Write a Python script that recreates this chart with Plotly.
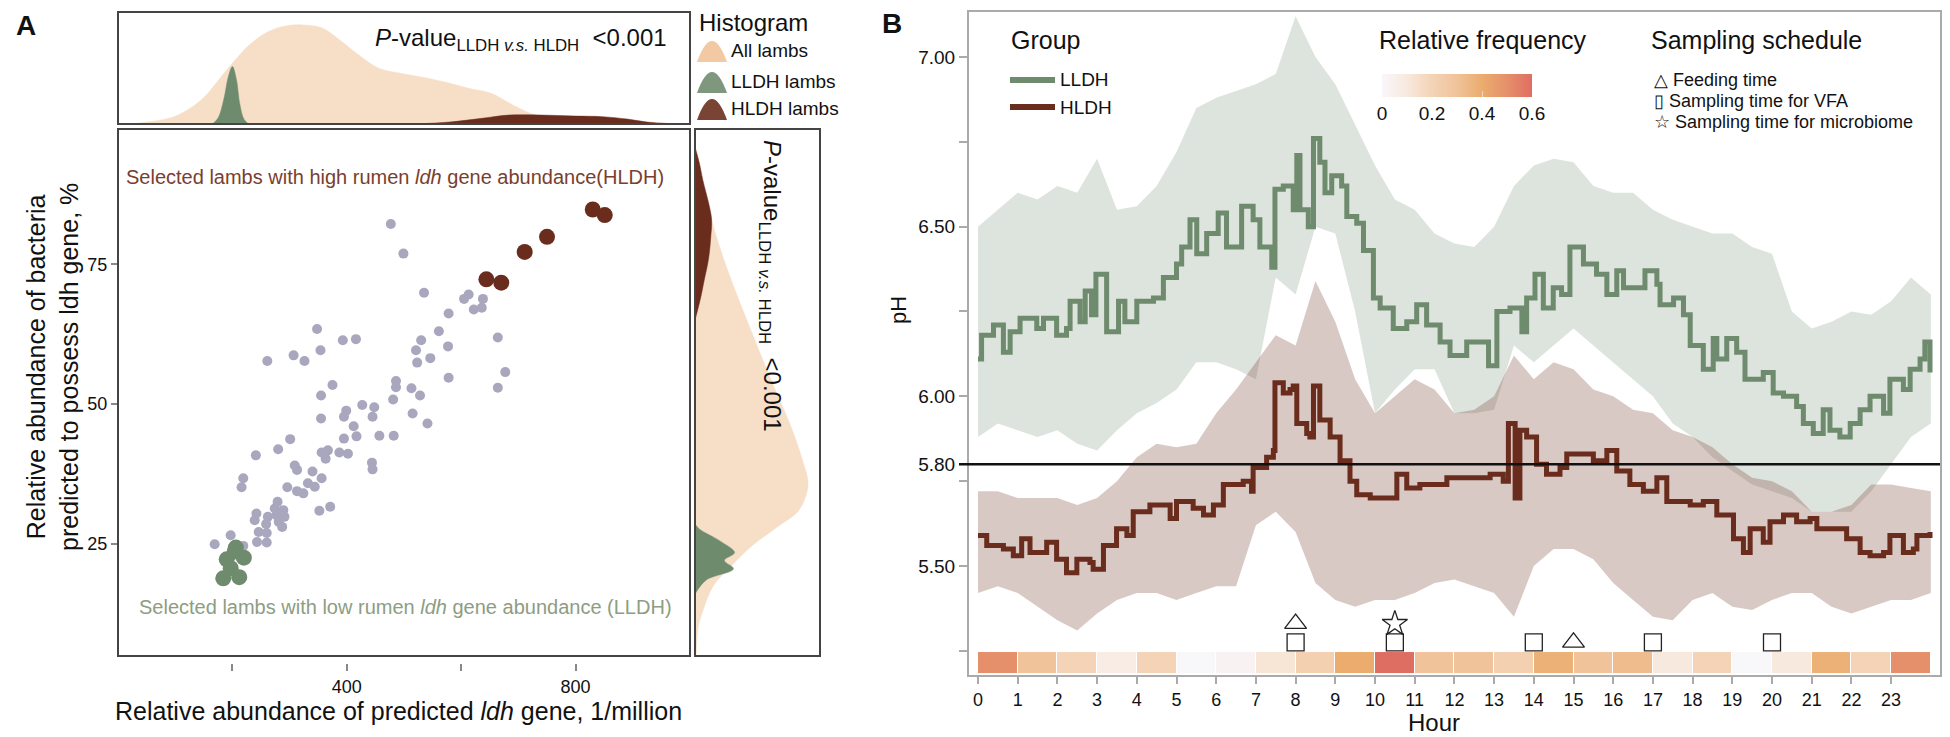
import plotly.graph_objects as go

W, H = 1950, 737
FONT = "Liberation Sans, Arial, sans-serif"

# ---------------- Panel A : scatter data ----------------
gray_x = [477, 499, 535, 605, 613, 638, 578, 622, 636, 561, 348, 393, 416, 530, 664, 354, 577, 521,
          261, 307, 326, 523, 546, 677, 578, 664, 375, 355, 486, 486, 513, 528, 481, 427, 448, 399,
          515, 355, 395, 445, 541, 412, 417, 395, 301, 457, 482, 280, 241, 356, 367, 387, 402, 363,
          309, 313, 444, 445, 219, 216, 340, 356, 332, 344, 296, 313, 324, 279, 371, 352, 274, 289,
          242, 262, 277, 291, 239, 259, 281, 287, 246, 260, 197, 243, 260, 169, 219]
gray_y = [82.2, 76.9, 69.9, 68.8, 69.6, 68.8, 66.2, 66.9, 67.2, 63.0, 63.4, 61.4, 61.6, 61.4, 61.9, 59.6,
          60.3, 59.6, 57.7, 58.7, 57.7, 57.4, 58.2, 55.7, 54.7, 52.9, 53.4, 51.5, 54.1, 53.0, 52.8, 51.5,
          50.8, 49.8, 49.4, 48.8, 48.3, 47.4, 47.7, 47.7, 46.5, 46.0, 44.2, 43.8, 43.7, 44.3, 44.3, 41.9,
          40.8, 41.3, 41.7, 41.3, 41.1, 40.2, 39.0, 38.2, 39.5, 38.3, 36.7, 35.1, 37.9, 36.7, 35.8, 35.2,
          35.1, 34.4, 34.0, 32.5, 31.6, 30.9, 31.3, 31.0, 30.4, 29.8, 30.1, 29.8, 29.2, 28.5, 28.9, 28.0,
          27.1, 26.9, 26.5, 25.3, 25.2, 24.9, 24.6]
lldh_x = [204, 190, 220, 197, 184, 212, 206]
lldh_y = [23.6, 22.2, 22.5, 20.6, 18.8, 19.0, 24.3]
hldh_x = [830, 851, 750, 711, 644, 670]
hldh_y = [84.8, 83.8, 79.9, 77.2, 72.3, 71.7]

# ---------------- Panel A : marginal densities (relative) ----------------
top_all_x = [0, 30, 50, 80, 105, 145, 185, 207, 230, 262, 293, 324, 356, 387, 418, 457, 496, 543, 574,
             613, 652, 691, 730, 769, 808, 886, 964, 1000]
top_all_d = [0.0, 0.005, 0.02, 0.045, 0.09, 0.24, 0.51, 0.66, 0.80, 0.93, 0.99, 1.0, 0.97, 0.85, 0.71,
             0.56, 0.51, 0.46, 0.42, 0.36, 0.31, 0.19, 0.09, 0.06, 0.04, 0.02, 0.007, 0.0]
top_lldh_x = [165, 175, 185, 193, 200, 207, 213, 220, 228]
top_lldh_d = [0.0, 0.06, 0.25, 0.48, 0.58, 0.45, 0.20, 0.05, 0.0]
top_hldh_x = [520, 580, 640, 683, 740, 800, 847, 890, 925, 960, 1000]
top_hldh_d = [0.0, 0.02, 0.06, 0.09, 0.09, 0.08, 0.074, 0.05, 0.02, 0.005, 0.0]

right_all_v = [97, 94, 90, 82.6, 75, 68, 60.9, 53, 46.4, 40, 35.5, 31, 28.3, 24.7, 21, 17.4, 13, 10.2, 5]
right_all_d = [0.0, 0.01, 0.06, 0.15, 0.27, 0.40, 0.54, 0.70, 0.84, 0.95, 1.0, 0.92, 0.75, 0.51, 0.32,
               0.16, 0.07, 0.03, 0.01]
right_hldh_v = [96, 93, 90, 86, 83, 80, 76, 72, 69, 65]
right_hldh_d = [0.0, 0.04, 0.07, 0.12, 0.147, 0.14, 0.12, 0.08, 0.05, 0.0]
right_lldh_v = [28.5, 27.6, 25.5, 23.4, 22.0, 20.5, 18.5, 16.0]
right_lldh_d = [0.0, 0.04, 0.22, 0.35, 0.26, 0.34, 0.10, 0.0]

# ---------------- Panel B : pH data ----------------
lldh_t = [0.00, 0.09, 0.39, 0.64, 0.81, 1.06, 1.48, 1.65, 1.98, 2.23, 2.32, 2.57, 2.70, 2.86, 2.97, 3.24,
          3.54, 3.70, 4.00, 4.42, 4.67, 5.00, 5.13, 5.34, 5.51, 5.76, 6.05, 6.26, 6.64, 6.93, 7.10, 7.40,
          7.48, 7.69, 7.94, 8.03, 8.11, 8.32, 8.45, 8.61, 8.74, 8.91, 9.16, 9.29, 9.54, 9.71, 9.96, 10.13,
          10.46, 10.80, 11.05, 11.30, 11.64, 11.89, 12.31, 12.65, 12.86, 13.07, 13.40, 13.70, 13.82, 14.03,
          14.24, 14.49, 14.70, 14.91, 15.25, 15.58, 15.84, 16.09, 16.26, 16.80, 17.10, 17.18, 17.52, 17.77,
          17.94, 18.27, 18.52, 18.61, 18.86, 19.11, 19.32, 19.78, 20.03, 20.29, 20.62, 20.79, 21.04, 21.29,
          21.46, 21.71, 21.97, 22.22, 22.47, 22.81, 22.97, 23.31, 23.48, 23.73, 23.85, 23.98]
lldh_ph = [6.11, 6.18, 6.21, 6.13, 6.19, 6.23, 6.20, 6.23, 6.18, 6.20, 6.28, 6.22, 6.31, 6.24, 6.36, 6.19,
           6.28, 6.22, 6.28, 6.29, 6.35, 6.39, 6.44, 6.52, 6.42, 6.48, 6.54, 6.44, 6.56, 6.52, 6.44, 6.38,
           6.61, 6.62, 6.55, 6.71, 6.55, 6.50, 6.76, 6.69, 6.60, 6.65, 6.62, 6.53, 6.51, 6.43, 6.29, 6.26,
           6.20, 6.22, 6.27, 6.21, 6.16, 6.12, 6.16, 6.16, 6.09, 6.25, 6.26, 6.19, 6.29, 6.36, 6.26, 6.32,
           6.30, 6.44, 6.39, 6.36, 6.30, 6.37, 6.32, 6.37, 6.33, 6.27, 6.29, 6.24, 6.15, 6.08, 6.17, 6.11,
           6.17, 6.13, 6.05, 6.07, 6.01, 6.00, 5.97, 5.92, 5.89, 5.96, 5.90, 5.88, 5.92, 5.96, 6.00, 5.95,
           6.05, 6.02, 6.08, 6.11, 6.16, 6.07]
hldh_t = [0.00, 0.22, 0.64, 0.89, 1.10, 1.31, 1.73, 1.98, 2.23, 2.49, 2.82, 2.90, 3.16, 3.49, 3.75, 3.91,
          4.33, 4.84, 5.00, 5.42, 5.68, 5.93, 6.18, 6.68, 6.89, 6.93, 7.27, 7.44, 7.48, 7.69, 7.86, 7.94,
          8.03, 8.28, 8.36, 8.45, 8.61, 8.87, 9.12, 9.37, 9.54, 9.88, 10.29, 10.55, 10.80, 11.13, 11.47,
          11.81, 12.23, 12.56, 12.90, 13.23, 13.36, 13.53, 13.65, 13.82, 14.07, 14.32, 14.66, 14.83, 15.25,
          15.50, 15.84, 16.09, 16.42, 16.76, 17.10, 17.35, 17.60, 17.94, 18.27, 18.61, 19.03, 19.28, 19.45,
          19.78, 19.95, 20.29, 20.62, 20.96, 21.13, 21.55, 21.88, 22.22, 22.47, 22.81, 22.97, 23.31, 23.56,
          23.65, 23.98]
hldh_ph = [5.59, 5.56, 5.55, 5.53, 5.58, 5.54, 5.57, 5.52, 5.48, 5.52, 5.51, 5.49, 5.56, 5.61, 5.59, 5.66,
           5.68, 5.64, 5.69, 5.67, 5.65, 5.68, 5.74, 5.75, 5.72, 5.79, 5.82, 5.84, 6.04, 6.01, 6.02, 6.03,
           5.92, 5.89, 5.88, 6.03, 5.93, 5.88, 5.81, 5.75, 5.71, 5.70, 5.70, 5.77, 5.73, 5.74, 5.74, 5.76,
           5.76, 5.76, 5.77, 5.75, 5.92, 5.70, 5.90, 5.88, 5.80, 5.77, 5.79, 5.83, 5.83, 5.81, 5.84, 5.78,
           5.74, 5.72, 5.76, 5.69, 5.69, 5.68, 5.69, 5.65, 5.58, 5.54, 5.61, 5.57, 5.63, 5.65, 5.63, 5.64,
           5.61, 5.61, 5.58, 5.54, 5.53, 5.54, 5.59, 5.54, 5.55, 5.59, 5.60]

band_t = [0, 0.5, 1, 1.5, 2, 2.5, 3, 3.5, 4, 4.5, 5, 5.5, 6, 6.5, 7, 7.5, 8, 8.5, 9, 9.5, 10, 10.5, 11,
          11.5, 12, 12.5, 13, 13.5, 14, 14.5, 15, 15.5, 16, 16.5, 17, 17.5, 18, 18.5, 19, 19.5, 20, 20.5,
          21, 21.5, 22, 22.5, 23, 23.5, 24]
lldh_hi = [6.50, 6.55, 6.60, 6.58, 6.62, 6.60, 6.70, 6.55, 6.56, 6.62, 6.72, 6.85, 6.88, 6.90, 6.92, 6.95,
           7.12, 7.00, 6.92, 6.80, 6.68, 6.58, 6.55, 6.48, 6.45, 6.44, 6.50, 6.62, 6.68, 6.70, 6.69, 6.62,
           6.60, 6.60, 6.55, 6.52, 6.50, 6.48, 6.48, 6.44, 6.42, 6.25, 6.20, 6.22, 6.25, 6.24, 6.28, 6.35,
           6.30]
lldh_lo = [5.88, 5.92, 5.90, 5.88, 5.90, 5.86, 5.84, 5.90, 5.95, 5.98, 6.02, 6.10, 6.10, 6.08, 6.05, 6.35,
           6.30, 6.50, 6.48, 6.25, 5.95, 6.02, 6.08, 6.08, 5.95, 5.95, 5.96, 6.15, 6.10, 6.15, 6.20, 6.15,
           6.10, 6.05, 6.00, 5.92, 5.88, 5.82, 5.78, 5.74, 5.72, 5.70, 5.66, 5.66, 5.66, 5.72, 5.80, 5.88,
           5.92]
hldh_hi = [5.72, 5.72, 5.70, 5.70, 5.70, 5.68, 5.70, 5.75, 5.82, 5.86, 5.85, 5.86, 5.95, 6.02, 6.10, 6.18,
           6.15, 6.34, 6.22, 6.05, 5.95, 6.00, 6.05, 6.02, 5.95, 5.96, 6.00, 6.12, 6.05, 6.10, 6.08, 6.02,
           6.00, 5.96, 5.95, 5.90, 5.88, 5.85, 5.80, 5.76, 5.75, 5.72, 5.66, 5.66, 5.68, 5.74, 5.74, 5.73,
           5.72]
hldh_lo = [5.42, 5.44, 5.42, 5.38, 5.34, 5.31, 5.36, 5.40, 5.42, 5.42, 5.40, 5.42, 5.44, 5.44, 5.62, 5.66,
           5.60, 5.45, 5.40, 5.38, 5.40, 5.40, 5.42, 5.45, 5.46, 5.44, 5.42, 5.35, 5.50, 5.55, 5.55, 5.52,
           5.45, 5.40, 5.35, 5.34, 5.40, 5.42, 5.38, 5.37, 5.40, 5.42, 5.42, 5.38, 5.36, 5.38, 5.40, 5.40,
           5.42]

hours = list(range(24))
hour_freq = [0.50, 0.30, 0.20, 0.08, 0.20, 0.00, 0.03, 0.12, 0.22, 0.40, 0.60, 0.30, 0.30, 0.22, 0.38, 0.30,
             0.33, 0.10, 0.20, 0.00, 0.10, 0.38, 0.20, 0.50]
feeding_t = [8, 15]
vfa_t = [8, 10.5, 14, 17, 20]
micro_t = [10.5]

# ---------------- colours ----------------
GRAY = '#A9A7BE'
GREEN = '#6F8B6E'
BROWN = '#6A2C1C'
PEACH = '#F6DEC7'


def px(x):
    return x / W


def py(y):
    return 1 - y / H


fig = go.Figure()

# top density
fig.add_trace(go.Scatter(x=top_all_x, y=top_all_d, xaxis='x2', yaxis='y2', mode='lines',
                         line=dict(color=PEACH, width=0.5, shape='spline'), fill='tozeroy', fillcolor=PEACH,
                         hoverinfo='skip'))
fig.add_trace(go.Scatter(x=top_lldh_x, y=top_lldh_d, xaxis='x2', yaxis='y2', mode='lines',
                         line=dict(color=GREEN, width=0.5, shape='spline'), fill='tozeroy', fillcolor=GREEN,
                         hoverinfo='skip'))
fig.add_trace(go.Scatter(x=top_hldh_x, y=top_hldh_d, xaxis='x2', yaxis='y2', mode='lines',
                         line=dict(color=BROWN, width=0.5, shape='spline'), fill='tozeroy', fillcolor=BROWN,
                         hoverinfo='skip'))
# right density
fig.add_trace(go.Scatter(x=right_all_d, y=right_all_v, xaxis='x3', yaxis='y3', mode='lines',
                         line=dict(color=PEACH, width=0.5, shape='spline'), fill='tozerox', fillcolor=PEACH,
                         hoverinfo='skip'))
fig.add_trace(go.Scatter(x=right_hldh_d, y=right_hldh_v, xaxis='x3', yaxis='y3', mode='lines',
                         line=dict(color=BROWN, width=0.5, shape='spline'), fill='tozerox', fillcolor=BROWN,
                         hoverinfo='skip'))
fig.add_trace(go.Scatter(x=right_lldh_d, y=right_lldh_v, xaxis='x3', yaxis='y3', mode='lines',
                         line=dict(color=GREEN, width=0.5, shape='spline'), fill='tozerox', fillcolor=GREEN,
                         hoverinfo='skip'))

# scatter
fig.add_trace(go.Scatter(x=gray_x, y=gray_y, mode='markers', marker=dict(color=GRAY, size=10),
                         hoverinfo='skip'))
fig.add_trace(go.Scatter(x=lldh_x, y=lldh_y, mode='markers', marker=dict(color=GREEN, size=16),
                         hoverinfo='skip'))
fig.add_trace(go.Scatter(x=hldh_x, y=hldh_y, mode='markers', marker=dict(color=BROWN, size=16),
                         hoverinfo='skip'))

# panel B ribbons
fig.add_trace(go.Scatter(x=band_t, y=lldh_hi, xaxis='x4', yaxis='y4', mode='lines', line=dict(width=0),
                         hoverinfo='skip'))
fig.add_trace(go.Scatter(x=band_t, y=lldh_lo, xaxis='x4', yaxis='y4', mode='lines', line=dict(width=0),
                         fill='tonexty', fillcolor='rgba(111,139,111,0.24)', hoverinfo='skip'))
fig.add_trace(go.Scatter(x=band_t, y=hldh_hi, xaxis='x4', yaxis='y4', mode='lines', line=dict(width=0),
                         hoverinfo='skip'))
fig.add_trace(go.Scatter(x=band_t, y=hldh_lo, xaxis='x4', yaxis='y4', mode='lines', line=dict(width=0),
                         fill='tonexty', fillcolor='rgba(110,45,30,0.26)', hoverinfo='skip'))
# lines
fig.add_trace(go.Scatter(x=lldh_t, y=lldh_ph, xaxis='x4', yaxis='y4', mode='lines',
                         line=dict(color=GREEN, width=5, shape='hv'), hoverinfo='skip'))
fig.add_trace(go.Scatter(x=hldh_t, y=hldh_ph, xaxis='x4', yaxis='y4', mode='lines',
                         line=dict(color=BROWN, width=5, shape='hv'), hoverinfo='skip'))

# heat strip
STRIP_LO, STRIP_HI = 5.1844, 5.2463
fig.add_trace(go.Heatmap(z=[hour_freq], x=hours + [24], y=[STRIP_LO, STRIP_HI], xaxis='x4', yaxis='y4',
                         zmin=0, zmax=0.6, xgap=1,
                         colorscale=[[0, '#F8F7FA'], [0.167, '#F8E9DE'], [0.333, '#F4D3B6'],
                                     [0.5, '#F0C39A'], [0.667, '#EBAC6E'], [0.833, '#E5906A'],
                                     [1, '#DF6E62']],
                         colorbar=dict(orientation='h', x=px(1382), xanchor='left', y=py(74), yanchor='top',
                                       len=150 / W, lenmode='fraction', thickness=23, outlinewidth=0,
                                       xpad=0, ypad=0,
                                       tickvals=[0, 0.2, 0.4, 0.6], ticktext=['0', '0.2', '0.4', '0.6'],
                                       ticks='inside', ticklen=6, tickcolor='#F0D8C0',
                                       tickfont=dict(family=FONT, size=19, color='#111')),
                         hoverinfo='skip'))
# schedule markers
ROW_HI, ROW_LO = 5.330, 5.275
fig.add_trace(go.Scatter(x=vfa_t, y=[ROW_LO] * len(vfa_t), xaxis='x4', yaxis='y4', mode='markers',
                         marker=dict(symbol='square-open', size=17, color='#222', line=dict(width=1.3)),
                         hoverinfo='skip'))
fig.add_trace(go.Scatter(x=feeding_t, y=[ROW_HI, ROW_LO], xaxis='x4', yaxis='y4', mode='markers',
                         marker=dict(symbol='triangle-up-open', size=19, color='#222', line=dict(width=1.3)),
                         hoverinfo='skip'))
fig.add_trace(go.Scatter(x=micro_t, y=[ROW_HI], xaxis='x4', yaxis='y4', mode='markers',
                         marker=dict(symbol='star-open', size=19, color='#222', line=dict(width=1.3)),
                         hoverinfo='skip'))

ph_lo = 7 - (675 - 57) / 339.3
ph_hi = 7 + (57 - 12) / 339.3
h_lo = (969 - 978) / 39.7
h_hi = (1940 - 978) / 39.7
R_EDGE = 820

tickfont = dict(family=FONT, size=18, color='#111')
layout = dict(
    width=W, height=H, margin=dict(l=0, r=0, t=0, b=0), paper_bgcolor='white', plot_bgcolor='rgba(0,0,0,0)',
    showlegend=False, font=dict(family=FONT, color='#111'),
    xaxis=dict(domain=[px(118), px(690)], range=[0, 1000], anchor='free', position=py(663), showline=False,
               showgrid=False, zeroline=False, ticks='outside', ticklen=7, tickwidth=1.5, tickcolor='#888',
               tickvals=[200, 400, 600, 800], ticktext=['', '400', '', '800'], tickfont=tickfont),
    yaxis=dict(domain=[py(656), py(129)], range=[4.9, 99.2], anchor='x', showline=False, showgrid=False,
               zeroline=False, ticks='outside', ticklen=6, tickwidth=1.5, tickcolor='#888',
               tickvals=[25, 50, 75], tickfont=tickfont),
    xaxis2=dict(domain=[px(118), px(690)], range=[0, 1000], anchor='y2', visible=False),
    yaxis2=dict(domain=[py(124), py(12)], range=[0, 1.13], anchor='x2', visible=False),
    xaxis3=dict(domain=[px(695), px(R_EDGE)], range=[0, (R_EDGE - 695) / (808 - 695)], anchor='y3',
                visible=False),
    yaxis3=dict(domain=[py(656), py(129)], range=[4.9, 99.2], anchor='x3', visible=False),
    xaxis4=dict(domain=[px(969), px(1940)], range=[h_lo, h_hi], anchor='y4', showline=True, mirror=True,
                linecolor='#AAAAAA', linewidth=2, showgrid=False, zeroline=False, ticks='outside', ticklen=7,
                tickwidth=2, tickcolor='#AAAAAA', tickvals=hours, tickfont=tickfont),
    yaxis4=dict(domain=[py(675), py(12)], range=[ph_lo, ph_hi], anchor='x4', showline=True, mirror=True,
                linecolor='#AAAAAA', linewidth=2, showgrid=False, zeroline=False, ticks='outside', ticklen=8,
                tickwidth=2, tickcolor='#AAAAAA',
                tickvals=[5.25, 5.5, 5.75, 5.8, 6.0, 6.25, 6.5, 6.75, 7.0],
                ticktext=[' ', '5.50', ' ', '5.80', '6.00', ' ', '6.50', ' ', '7.00'],
                tickfont=dict(family=FONT, size=19, color='#111')),
)

shapes = []
for (x0, y0, x1, y1) in [(118, 12, 690, 124), (118, 129, 690, 656), (695, 129, R_EDGE, 656)]:
    shapes.append(dict(type='rect', xref='paper', yref='paper', x0=px(x0), x1=px(x1), y0=py(y1), y1=py(y0),
                       line=dict(color='#444', width=2), fillcolor='rgba(0,0,0,0)', layer='above'))
# threshold line at pH 5.80
shapes.append(dict(type='line', xref='paper', yref='y4', x0=px(959), x1=px(1940), y0=5.8, y1=5.8,
                   line=dict(color='#111', width=2.5), layer='above'))
# histogram legend icons
for yc, col in [(50, '#F2C9A3'), (81, '#7F977D'), (108, '#7A4434')]:
    shapes.append(dict(type='path', xref='paper', yref='paper',
                       path=f'M {px(697)},{py(yc + 12)} Q {px(712)},{py(yc - 30)} {px(727)},{py(yc + 12)} Z',
                       fillcolor=col, line=dict(width=0)))
# group legend lines
for yc, col in [(80, GREEN), (107, BROWN)]:
    shapes.append(dict(type='line', xref='paper', yref='paper', x0=px(1010), x1=px(1055), y0=py(yc), y1=py(yc),
                       line=dict(color=col, width=6)))
layout['shapes'] = shapes


def ann(x, y, text, size, xanchor='left', color='#111', angle=0, yanchor='middle'):
    return dict(x=px(x), y=py(y), xref='paper', yref='paper', text=text, showarrow=False, xanchor=xanchor,
                yanchor=yanchor, textangle=angle, font=dict(family=FONT, size=size, color=color))


pv = '<i>P</i>-value<sub>LLDH <i>v.s.</i> HLDH</sub>  &lt;0.001'
annotations = [
    ann(14, 26, '<b>A</b>', 28),
    ann(880, 24, '<b>B</b>', 28),
    ann(373, 40, pv, 24),
    ann(771, 286, pv, 24, xanchor='center', angle=90),
    ann(697, 23, 'Histogram', 24),
    ann(729, 50, 'All lambs', 19),
    ann(729, 81, 'LLDH lambs', 19),
    ann(729, 108, 'HLDH lambs', 19),
    ann(124, 177, 'Selected lambs with high rumen <i>ldh</i> gene abundance(HLDH)', 20, color='#7A3E2E'),
    ann(137, 607, 'Selected lambs with low rumen <i>ldh</i> gene abundance (LLDH)', 20, color='#8D9D83'),
    ann(52, 367, 'Relative abundance of bacteria<br>predicted to possess ldh gene, %', 25, xanchor='center',
        angle=-90),
    ann(398, 711, 'Relative abundance of predicted <i>ldh</i> gene, 1/million', 25, xanchor='center'),
    ann(898, 310, 'pH', 22, xanchor='center', angle=-90),
    ann(1434, 722, 'Hour', 24, xanchor='center'),
    ann(1009, 40, 'Group', 25),
    ann(1058, 80, 'LLDH', 19),
    ann(1058, 107, 'HLDH', 19),
    ann(1377, 40, 'Relative frequency', 25),
    ann(1649, 40, 'Sampling schedule', 25),
    ann(1652, 80, '△ Feeding time', 18),
    ann(1652, 101, '▯ Sampling time for VFA', 18),
    ann(1652, 122, '☆ Sampling time for microbiome', 18),
]
layout['annotations'] = annotations
fig.update_layout(**layout)
fig.write_html('out.html')
